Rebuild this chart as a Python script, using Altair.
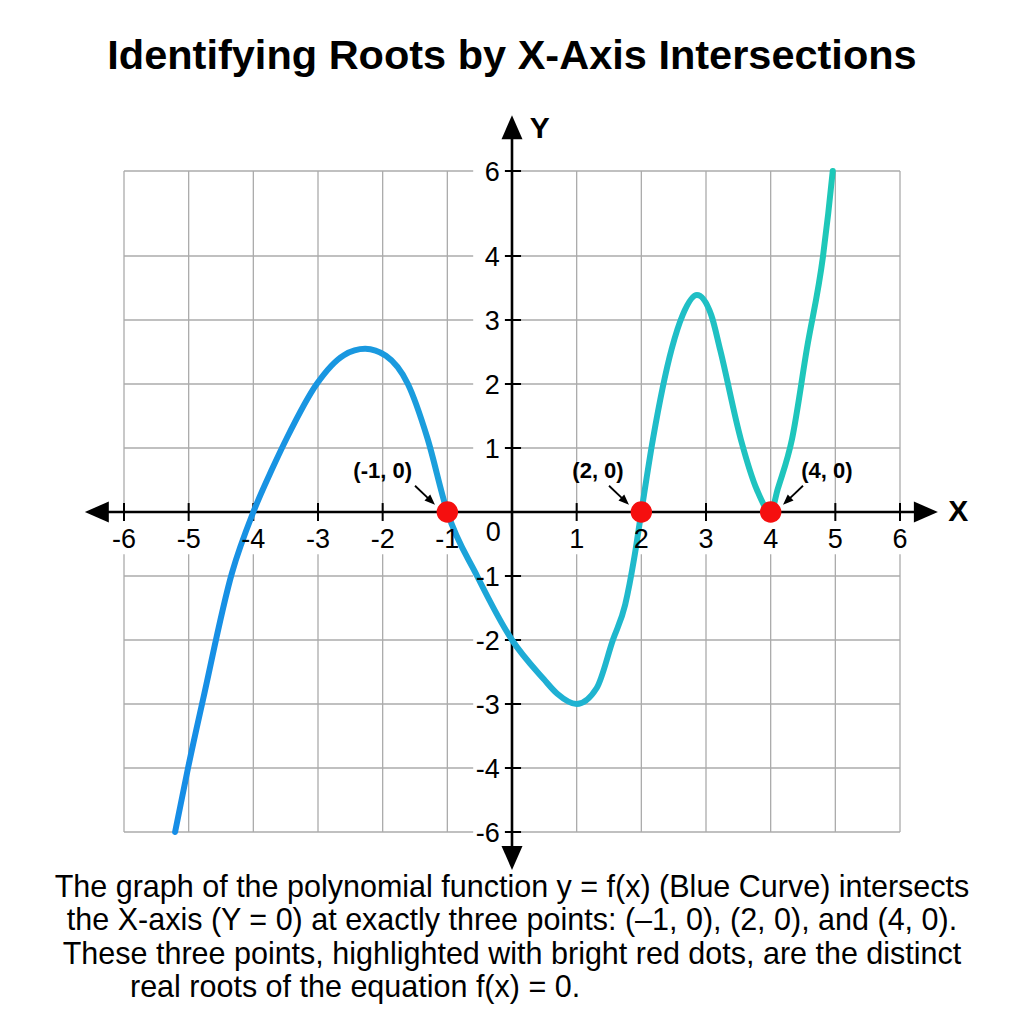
import math
import altair as alt
import pandas as pd

# ---------------- data ----------------
TITLE = "Identifying Roots by X-Axis Intersections"

curve_x = [-5.21, -5.01, -4.78, -4.33, -4.00, -3.71, -3.48, -3.02, -2.60, -2.27,
           -1.95, -1.61, -1.31, -1.00, -0.54, 0.00, 0.49, 0.70, 1.00, 1.31,
           1.56, 1.75, 1.89, 2.00, 2.18, 2.47, 2.64, 2.86, 3.08, 3.22,
           3.54, 3.79, 4.00, 4.11, 4.33, 4.56, 4.81, 4.89, 4.96]
curve_y = [-6.0, -4.0, -2.94, -0.95, 0.0, 0.67, 1.16, 2.0, 2.45, 2.55,
           2.44, 2.0, 1.16, 0.0, -1.0, -2.0, -2.61, -2.84, -3.0, -2.75,
           -2.0, -1.45, -0.72, 0.0, 1.14, 2.55, 3.08, 3.39, 3.08, 2.53,
           1.13, 0.34, 0.0, 0.36, 1.14, 2.55, 4.0, 5.0, 6.0]

roots = [-1, 2, 4]
root_labels = ["(-1, 0)", "(2, 0)", "(4, 0)"]

x_ticks = [-6, -5, -4, -3, -2, -1, 1, 2, 3, 4, 5, 6]
y_ticks = [6, 4, 3, 2, 1, -1, -2, -3, -4, -6]

caption_lines = [
    "The graph of the polynomial function y = f(x) (Blue Curve) intersects",
    "the X-axis (Y = 0) at exactly three points: (\u20131, 0), (2, 0), and (4, 0).",
    "These three points, highlighted with bright red dots, are the distinct",
]
caption_last = "real roots of the equation f(x) = 0."

# ---------------- layout / style ----------------
W, H = 970, 900
PAD = {"left": 27, "top": 100, "right": 27, "bottom": 24}
FONT = "Liberation Sans"
GRID = "#ababab"

xscale = alt.Scale(domain=[-7.5, 7.5], nice=False, zero=False)
# the reference's y axis is not uniform: labels 6 and -6 sit closer to 4 / -4
yscale = alt.Scale(domain=[-6, -4, 4, 6], range=[732, 668, 156, 71], nice=False, zero=False)


def X(f):
    return alt.X(f, type="quantitative", scale=xscale, axis=None)


def Y(f):
    return alt.Y(f, type="quantitative", scale=yscale, axis=None)


# grid segments (gaps where the tick labels sit)
grid_rows = []
for k in x_ticks:
    grid_rows.append(dict(x=k, x2=k, y=0, y2=6))
    grid_rows.append(dict(x=k, x2=k, y=-0.66, y2=-6))
for k in y_ticks:
    grid_rows.append(dict(x=-6, x2=-0.6, y=k, y2=k))
    grid_rows.append(dict(x=0, x2=6, y=k, y2=k))
grid_df = pd.DataFrame(grid_rows)

grid = alt.Chart(grid_df).mark_rule(color=GRID, strokeWidth=1.3).encode(
    x=X("x"), x2="x2", y=Y("y"), y2="y2")

axis_df = pd.DataFrame([
    dict(x=-6.42, x2=6.40, y=0, y2=0),
    dict(x=0, x2=0, y=-6.81, y2=7.03),
])
axes = alt.Chart(axis_df).mark_rule(color="black", strokeWidth=2.6).encode(
    x=X("x"), x2="x2", y=Y("y"), y2="y2")

tick_rows = [dict(x=k, x2=k, y=-0.14, y2=0.14) for k in x_ticks]
tick_rows += [dict(x=-0.11, x2=0.14, y=k, y2=k) for k in y_ticks]
ticks = alt.Chart(pd.DataFrame(tick_rows)).mark_rule(color="black", strokeWidth=2).encode(
    x=X("x"), x2="x2", y=Y("y"), y2="y2")

ARROW = "M0,-1L0.875,1L-0.875,1Z"
head_df = pd.DataFrame([
    dict(x=-6.42, y=0, angle=270),
    dict(x=6.40, y=0, angle=90),
    dict(x=0, y=7.03, angle=0),
    dict(x=0, y=-6.81, angle=180),
])
heads = alt.Chart(head_df).mark_point(shape=ARROW, filled=True, size=576, color="black",
                                      opacity=1, strokeWidth=0).encode(
    x=X("x"), y=Y("y"), angle=alt.Angle("angle:Q", scale=None))

# curve
curve_df = pd.DataFrame({"x": curve_x, "y": curve_y, "i": list(range(len(curve_x)))})
grad = alt.Gradient(
    gradient="linear",
    stops=[
        alt.GradientStop(color="#168de6", offset=0.0),
        alt.GradientStop(color="#1a9bde", offset=0.35),
        alt.GradientStop(color="#1fb0d3", offset=0.58),
        alt.GradientStop(color="#20bdc8", offset=0.74),
        alt.GradientStop(color="#1ec8b8", offset=1.0),
    ],
    x1=0, x2=1, y1=0, y2=0,
)
curve = alt.Chart(curve_df).mark_line(interpolate="monotone", strokeWidth=6, strokeCap="round",
                                      strokeJoin="round", stroke=grad).encode(
    x=X("x"), y=Y("y"), order="i:Q")

# roots
root_df = pd.DataFrame({"x": roots, "y": [0] * len(roots), "label": root_labels})
dots = alt.Chart(root_df).mark_circle(size=460, color="#f50f0f", opacity=1).encode(
    x=X("x"), y=Y("y"))

ann_side = [-1, -1, 1]
label_dx = [-1.0, -0.67, 0.87]
arrow_rows, ahead_rows, lab_rows = [], [], []
for r, s, dx, t in zip(roots, ann_side, label_dx, root_labels):
    sx, sy = r + 0.5 * s, 0.41
    ex, ey = r + 0.25 * s, 0.17
    arrow_rows.append(dict(x=sx, y=sy, x2=ex, y2=ey))
    ang = math.degrees(math.atan2((ex - sx) * 64.67, (ey - sy) * 64)) % 360
    ahead_rows.append(dict(x=ex, y=ey, angle=ang))
    lab_rows.append(dict(x=r + dx, y=0.64, label=t))

shafts = alt.Chart(pd.DataFrame(arrow_rows)).mark_rule(color="black", strokeWidth=1.8).encode(
    x=X("x"), x2="x2", y=Y("y"), y2="y2")
aheads = alt.Chart(pd.DataFrame(ahead_rows)).mark_point(
    shape="M0,-1L0.8,1L-0.8,1Z", filled=True, size=110, color="black", opacity=1, strokeWidth=0
).encode(x=X("x"), y=Y("y"), angle=alt.Angle("angle:Q", scale=None))
root_text = alt.Chart(pd.DataFrame(lab_rows)).mark_text(
    font=FONT, fontSize=22, fontWeight="bold", color="black").encode(
    x=X("x"), y=Y("y"), text="label:N")

# tick labels
xlab_df = pd.DataFrame({"x": x_ticks, "y": [-0.44] * len(x_ticks),
                        "t": [str(v) for v in x_ticks]})
xlabels = alt.Chart(xlab_df).mark_text(font=FONT, fontSize=27, color="black").encode(
    x=X("x"), y=Y("y"), text="t:N")
zero_df = pd.DataFrame({"x": [-0.29], "y": [-0.33], "t": ["0"]})
zlabel = alt.Chart(zero_df).mark_text(font=FONT, fontSize=27, color="black").encode(
    x=X("x"), y=Y("y"), text="t:N")
ylab_df = pd.DataFrame({"x": [-0.19] * len(y_ticks), "y": y_ticks,
                        "t": [str(v) for v in y_ticks]})
ylabels = alt.Chart(ylab_df).mark_text(font=FONT, fontSize=27, color="black", align="right",
                                       dy=2).encode(
    x=X("x"), y=Y("y"), text="t:N")

axname_df = pd.DataFrame({"x": [6.9, 0.43], "y": [0, 7.0], "t": ["X", "Y"]})
axnames = alt.Chart(axname_df).mark_text(font=FONT, fontSize=30, fontWeight="bold",
                                         color="black").encode(
    x=X("x"), y=Y("y"), text="t:N")

one = pd.DataFrame({"a": [0]})
title_mark = alt.Chart(one).mark_text(text=TITLE, font=FONT, fontSize=41.5, fontWeight="bold",
                                      align="center", baseline="alphabetic",
                                      color="black").encode(
    x=alt.value(485), y=alt.value(-31))
cap1 = alt.Chart(one).mark_text(text=caption_lines, font=FONT, fontSize=30.5, lineHeight=33.3,
                                align="center", baseline="alphabetic", color="black").encode(
    x=alt.value(485), y=alt.value(797))
cap2 = alt.Chart(one).mark_text(text=caption_last, font=FONT, fontSize=30.5,
                                align="left", baseline="alphabetic", color="black").encode(
    x=alt.value(103), y=alt.value(897))

chart = alt.layer(
    grid, axes, ticks, heads, curve, dots, shafts, aheads, root_text,
    xlabels, zlabel, ylabels, axnames, title_mark, cap1, cap2,
).properties(
    width=W, height=H,
    padding=PAD,
    autosize=alt.AutoSizeParams(type="none"),
    background="white",
).configure_view(stroke=None)

chart.save("out.html", embed_options={"renderer": "svg", "actions": False})
